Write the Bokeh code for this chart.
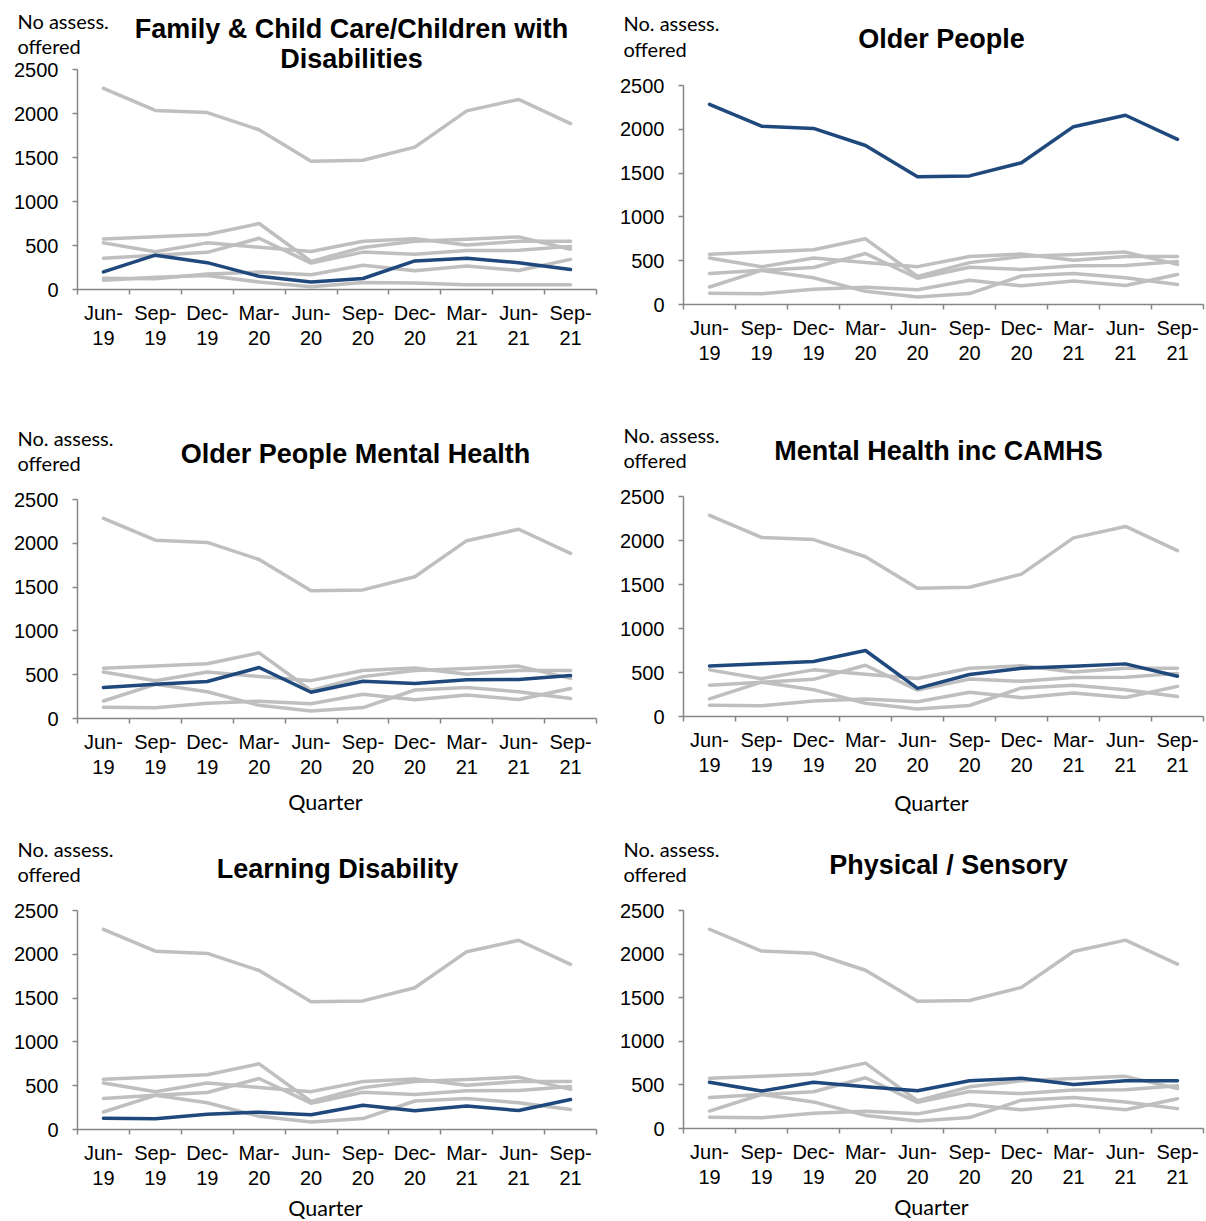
from bokeh.plotting import figure
from bokeh.layouts import column, row
from bokeh.models import FixedTicker, Range1d
from bokeh.embed import file_html
from bokeh.resources import INLINE
from bokeh.core.properties import value

# ---------------- data ----------------
quarters = ["Jun-19", "Sep-19", "Dec-19", "Mar-20", "Jun-20",
            "Sep-20", "Dec-20", "Mar-21", "Jun-21", "Sep-21"]
family_child_care = [200, 390, 305, 150, 85, 125, 325, 355, 305, 228]
older_people = [2285, 2035, 2010, 1815, 1458, 1468, 1618, 2030, 2160, 1885]
older_people_mh = [355, 390, 422, 582, 300, 425, 400, 442, 445, 490]
mental_health_camhs = [575, 600, 625, 750, 320, 478, 548, 572, 598, 458]
learning_disability = [128, 122, 175, 198, 168, 276, 214, 268, 216, 342]
physical_sensory = [530, 430, 530, 480, 432, 548, 576, 505, 548, 548]
other_fcc_panel = [105, 140, 160, 85, 30, 80, 75, 55, 55, 55]  # extra grey line, first panel only
y_ticks = [0, 500, 1000, 1500, 2000, 2500]

series = {
    "family": family_child_care,
    "older": older_people,
    "opmh": older_people_mh,
    "mh": mental_health_camhs,
    "ld": learning_disability,
    "ps": physical_sensory,
}
order = ["older", "mh", "ps", "opmh", "family", "ld"]

panels = [
    dict(key="family", title=["Family & Child Care/Children with", "Disabilities"],
         ylab="No assess.", quarter=False, extra=True),
    dict(key="older", title=["Older People"], ylab="No. assess.", quarter=False, extra=False),
    dict(key="opmh", title=["Older People Mental Health"], ylab="No. assess.", quarter=True, extra=False),
    dict(key="mh", title=["Mental Health inc CAMHS"], ylab="No. assess.", quarter=True, extra=False),
    dict(key="ld", title=["Learning Disability"], ylab="No. assess.", quarter=True, extra=False),
    dict(key="ps", title=["Physical / Sensory"], ylab="No. assess.", quarter=True, extra=False),
]

# ---------------- layout / style ----------------
GREY = "#bfbfbf"
BLUE = "#1f497d"
AXIS = "#868686"
TICK_FONT = "Liberation Sans"
NOTE_FONT = "Lato"

# (width, height, border_left, border_right, border_top, border_bottom,
#  title_x, title_y, ylab_y1, ylab_y2, quarter_y)  -- pixel offsets from frame bottom-left
geom = [
    (603, 400, 77, 7, 69, 111, 274, 261, 269, 244, None),
    (603, 400, 80, 3, 85, 96, 258, 266, 282, 256, None),
    (603, 420, 77, 7, 99, 102, 278, 265, 281, 256, -83),
    (603, 420, 80, 3, 96, 104, 255, 266, 282, 257, -86),
    (603, 400, 77, 7, 90, 91, 260, 261, 281, 256, -78),
    (603, 400, 80, 3, 90, 92, 265, 264, 280, 255, -78),
]

xs = list(range(len(quarters)))
bounds = [i - 0.5 for i in range(len(quarters) + 1)]
xlabels = {i: q.replace("-", "-\n") for i, q in enumerate(quarters)}
x0, x1 = -0.5, len(quarters) - 0.5

figs = []
for spec, g in zip(panels, geom):
    W, H, bl, br, bt, bb, tx, ty, yl1, yl2, qy = g
    fw = W - bl - br
    fh = H - bt - bb
    p = figure(width=W, height=H, output_backend="svg", toolbar_location=None, title=None,
               x_range=Range1d(x0, x1), y_range=Range1d(y_ticks[0], y_ticks[-1]),
               min_border_left=bl, min_border_right=br,
               min_border_top=bt, min_border_bottom=bb)
    p.outline_line_color = None
    p.grid.visible = False

    xa = p.xaxis[0]
    xa.ticker = FixedTicker(ticks=xs, minor_ticks=bounds)
    xa.major_label_overrides = xlabels
    xa.major_tick_out = 0
    xa.major_tick_in = 0
    xa.minor_tick_out = 5
    xa.minor_tick_in = 0
    xa.minor_tick_line_color = AXIS
    xa.minor_tick_line_width = 1.5
    xa.axis_line_color = AXIS
    xa.axis_line_width = 1.5
    xa.major_label_text_font = TICK_FONT
    xa.major_label_text_font_size = "20px"
    xa.major_label_text_color = "black"
    xa.major_label_standoff = 7
    xa.major_label_text_line_height = 1.15

    ya = p.yaxis[0]
    ya.ticker = FixedTicker(ticks=y_ticks)
    ya.major_tick_out = 5
    ya.major_tick_in = 0
    ya.minor_tick_out = 0
    ya.minor_tick_in = 0
    ya.major_tick_line_color = AXIS
    ya.major_tick_line_width = 1.5
    ya.axis_line_color = AXIS
    ya.axis_line_width = 1.5
    ya.major_label_text_font = TICK_FONT
    ya.major_label_text_font_size = "20px"
    ya.major_label_text_color = "black"
    ya.major_label_standoff = 14

    if spec["extra"]:
        p.line(xs, other_fcc_panel, line_color=GREY, line_width=3.5,
               line_join="round", line_cap="round")
    for k in order:
        if k != spec["key"]:
            p.line(xs, series[k], line_color=GREY, line_width=3.5,
                   line_join="round", line_cap="round")
    p.line(xs, series[spec["key"]], line_color=BLUE, line_width=3.5,
           line_join="round", line_cap="round")

    # texts outside the frame: text glyphs on the overlay level (not clipped)
    texts = []
    for i, t in enumerate(spec["title"]):
        texts.append((tx, ty - 30 * i, t, TICK_FONT, "27px", "bold", "center"))
    texts.append((-60, yl1, spec["ylab"], NOTE_FONT, "20px", "normal", "left"))
    texts.append((-60, yl2, "offered", NOTE_FONT, "20px", "normal", "left"))
    if spec["quarter"]:
        texts.append((248, qy, "Quarter", NOTE_FONT, "21.5px", "normal", "center"))

    sx = (x1 - x0) / fw
    sy = (y_ticks[-1] - y_ticks[0]) / fh
    for (px, py, t, f, s, st, al) in texts:
        r = p.text(x=[x0 + px * sx], y=[y_ticks[0] + py * sy], text=[t],
                   text_font=value(f), text_font_size=value(s), text_font_style=st,
                   text_align=al, text_baseline="middle", text_color="black")
        r.level = "overlay"
    figs.append(p)

layout = row(column(figs[0], figs[2], figs[4]), column(figs[1], figs[3], figs[5]))
open("out.html", "w").write(file_html(layout, INLINE))
